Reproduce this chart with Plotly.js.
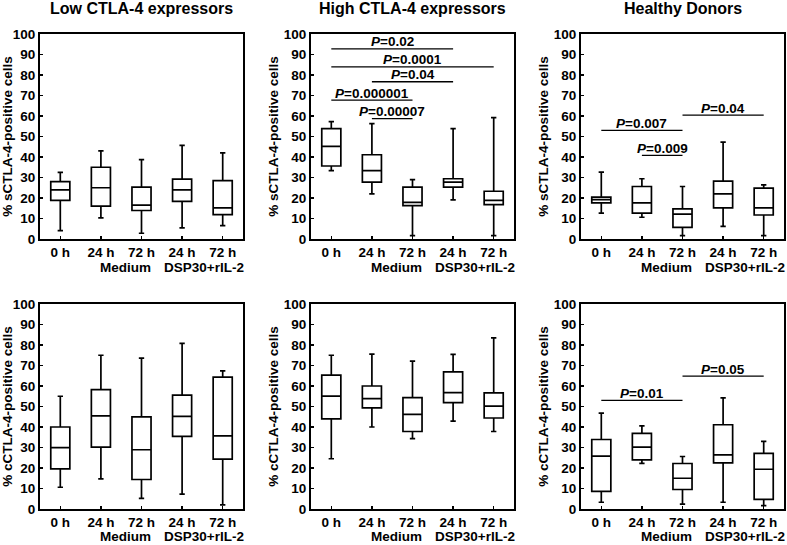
<!DOCTYPE html>
<html>
<head>
<meta charset="utf-8">
<script src="https://cdn.plot.ly/plotly-3.0.1.min.js"></script>
<style>html,body{margin:0;padding:0;background:#fff;}#chart{width:787px;height:545px;}</style>
</head>
<body>
<div id="chart"></div>
<script>
// ---- categories / tick labels ----
const tickLabels = ['0 h', '24 h', '72 h', '24 h', '72 h'];
const groupLabels = ['Medium', 'DSP30+rIL-2'];
const panelTitles = ['Low CTLA-4 expressors', 'High CTLA-4 expressors', 'Healthy Donors'];
const yTitles = ['% sCTLA-4-positive cells', '% cCTLA-4-positive cells'];

// ---- box statistics (lower whisker, q1, median, q3, upper whisker) ----
// Low CTLA-4 expressors, sCTLA-4
const lowS_lo  = [4.1, 10.3, 2.8, 5.4, 6.5];
const lowS_q1  = [18.8, 16.0, 13.9, 18.4, 11.9];
const lowS_med = [24.0, 25.0, 16.5, 24.0, 15.2];
const lowS_q3  = [28.0, 35.0, 25.3, 29.2, 28.5];
const lowS_hi  = [32.5, 43.0, 38.7, 45.7, 42.0];
// High CTLA-4 expressors, sCTLA-4
const highS_lo  = [33.4, 22.0, 1.6, 19.1, 1.6];
const highS_q1  = [35.6, 27.7, 16.3, 25.3, 16.8];
const highS_med = [45.2, 33.4, 17.9, 27.7, 18.8];
const highS_q3  = [53.8, 41.1, 25.3, 29.4, 23.3];
const highS_hi  = [57.3, 56.3, 29.0, 53.8, 59.2];
// Healthy donors, sCTLA-4
const hdS_lo  = [12.6, 10.6, 1.6, 6.2, 1.6];
const hdS_q1  = [17.6, 12.6, 5.7, 15.2, 11.7];
const hdS_med = [19.2, 17.6, 12.1, 22.0, 15.2];
const hdS_q3  = [20.4, 25.6, 14.7, 28.2, 24.8];
const hdS_hi  = [32.6, 29.4, 25.6, 47.3, 26.4];
// Low CTLA-4 expressors, cCTLA-4
const lowC_lo  = [10.6, 14.7, 5.2, 7.3, 2.0];
const lowC_q1  = [19.6, 30.2, 14.4, 35.4, 24.3];
const lowC_med = [29.9, 45.4, 28.9, 45.2, 35.7];
const lowC_q3  = [40.0, 58.2, 44.9, 55.5, 64.3];
const lowC_hi  = [55.0, 75.0, 73.6, 80.8, 67.4];
// High CTLA-4 expressors, cCTLA-4
const highC_lo  = [24.5, 40.0, 34.3, 42.9, 37.8];
const highC_q1  = [44.0, 49.3, 37.8, 51.9, 44.4];
const highC_med = [55.1, 53.8, 46.2, 56.8, 50.2];
const highC_q3  = [65.3, 60.0, 54.3, 66.9, 56.6];
const highC_hi  = [75.0, 75.5, 72.1, 75.4, 83.5];
// Healthy donors, cCTLA-4
const hdC_lo  = [3.3, 22.3, 2.4, 3.3, 1.6];
const hdC_q1  = [8.6, 24.0, 9.5, 22.5, 4.7];
const hdC_med = [25.8, 30.2, 15.0, 26.4, 19.4];
const hdC_q3  = [33.9, 36.9, 22.2, 41.1, 27.1];
const hdC_hi  = [46.8, 40.5, 25.6, 54.2, 33.0];

// ---- significance brackets (from box index, to box index, level, P value) ----
const highS_pFrom  = [0, 0, 1, 0, 1];
const highS_pTo    = [3, 4, 3, 2, 2];
const highS_pLevel = [92.7, 84.0, 76.7, 67.7, 58.7];
const highS_pText  = ['0.02', '0.0001', '0.04', '0.000001', '0.00007'];
const hdS_pFrom  = [0, 1, 2];
const hdS_pTo    = [2, 2, 4];
const hdS_pLevel = [53.0, 40.8, 60.4];
const hdS_pText  = ['0.007', '0.009', '0.04'];
const hdC_pFrom  = [0, 2];
const hdC_pTo    = [2, 4];
const hdC_pLevel = [53.0, 64.8];
const hdC_pText  = ['0.01', '0.05'];

// ---- build ----
const FONT = 'Liberation Sans, Arial, Helvetica, sans-serif';
const FS = 13.5;
const xpos = tickLabels.map((_, i) => i);
const panels = [
  {lo: lowS_lo, q1: lowS_q1, med: lowS_med, q3: lowS_q3, hi: lowS_hi, p: null},
  {lo: highS_lo, q1: highS_q1, med: highS_med, q3: highS_q3, hi: highS_hi,
   p: {from: highS_pFrom, to: highS_pTo, level: highS_pLevel, text: highS_pText}},
  {lo: hdS_lo, q1: hdS_q1, med: hdS_med, q3: hdS_q3, hi: hdS_hi,
   p: {from: hdS_pFrom, to: hdS_pTo, level: hdS_pLevel, text: hdS_pText}},
  {lo: lowC_lo, q1: lowC_q1, med: lowC_med, q3: lowC_q3, hi: lowC_hi, p: null},
  {lo: highC_lo, q1: highC_q1, med: highC_med, q3: highC_q3, hi: highC_hi, p: null},
  {lo: hdC_lo, q1: hdC_q1, med: hdC_med, q3: hdC_q3, hi: hdC_hi,
   p: {from: hdC_pFrom, to: hdC_pTo, level: hdC_pLevel, text: hdC_pText}}
];

const W = 787, H = 545;
const colPx = [[40, 243], [311, 514], [581, 784]];
const rowPx = [[34, 239], [304, 509]];

const data = [];
const layout = {
  width: W, height: H,
  margin: {l: 0, r: 0, t: 0, b: 0},
  paper_bgcolor: '#fff', plot_bgcolor: '#fff',
  showlegend: false,
  font: {family: FONT, color: '#000', size: FS, weight: 'bold'},
  annotations: []
};

panels.forEach((pn, k) => {
  const idx = k + 1;
  const xs = idx === 1 ? '' : String(idx);
  const xa = 'x' + xs, ya = 'y' + xs;
  const col = k % 3, row = Math.floor(k / 3);
  const xd = [colPx[col][0] / W, colPx[col][1] / W];
  const yd = [1 - rowPx[row][1] / H, 1 - rowPx[row][0] / H];

  data.push({
    type: 'box', xaxis: xa, yaxis: ya,
    x: xpos, q1: pn.q1, median: pn.med, q3: pn.q3,
    lowerfence: pn.lo, upperfence: pn.hi,
    boxpoints: false, width: 0.47, whiskerwidth: 0.28,
    fillcolor: '#fff', line: {color: '#000', width: 1.7},
    hoverinfo: 'skip'
  });

  if (pn.p) {
    pn.p.from.forEach((f, j) => {
      data.push({
        type: 'scatter', mode: 'lines', xaxis: xa, yaxis: ya,
        x: [xpos[f], xpos[pn.p.to[j]]], y: [pn.p.level[j], pn.p.level[j]],
        line: {color: '#000', width: 1.3}, hoverinfo: 'skip'
      });
      layout.annotations.push({
        xref: xa, yref: ya,
        x: (xpos[f] + xpos[pn.p.to[j]]) / 2, y: pn.p.level[j],
        xanchor: 'center', yanchor: 'bottom', yshift: -2.5,
        text: '<i>P</i>=' + pn.p.text[j], showarrow: false,
        font: {family: FONT, size: FS, weight: 'bold', color: '#000'}
      });
    });
  }

  layout['xaxis' + xs] = {
    domain: xd, anchor: ya, range: [-0.5, 4.5],
    tickvals: xpos, ticktext: tickLabels,
    ticks: 'inside', ticklen: 3, tickwidth: 1.5, tickcolor: '#000',
    showline: true, linecolor: '#000', linewidth: 2, mirror: true,
    showgrid: false, zeroline: false, fixedrange: true,
    tickfont: {family: FONT, size: FS, weight: 'bold', color: '#000'}
  };
  layout['yaxis' + xs] = {
    domain: yd, anchor: xa, range: [0, 100], dtick: 10, tick0: 0,
    ticks: 'inside', ticklen: 3, tickwidth: 1.5, tickcolor: '#000',
    showline: true, linecolor: '#000', linewidth: 2, mirror: true,
    showgrid: false, zeroline: false, fixedrange: true,
    tickfont: {family: FONT, size: FS, weight: 'bold', color: '#000'},
    title: {text: yTitles[row], standoff: 2,
            font: {family: FONT, size: FS, weight: 'bold', color: '#000'}}
  };

  // group labels under the category ticks
  const gy = row === 0 ? 1 - (rowPx[row][1] + 28) / H : 0;
  const ganchor = row === 0 ? 'middle' : 'bottom';
  groupLabels.forEach((g, gi) => {
    layout.annotations.push({
      xref: xa, yref: 'paper', x: gi === 0 ? 1.6 : 3.55, y: gy,
      xanchor: 'center', yanchor: ganchor, borderpad: 0,
      text: g, showarrow: false,
      font: {family: FONT, size: FS, weight: 'bold', color: '#000'}
    });
  });

  if (row === 0) {
    layout.annotations.push({
      xref: 'paper', yref: 'paper', x: (xd[0] + xd[1]) / 2, y: 1 - 8 / H,
      xanchor: 'center', yanchor: 'middle',
      text: panelTitles[col], showarrow: false,
      font: {family: FONT, size: 16, weight: 'bold', color: '#000'}
    });
  }
});

Plotly.newPlot('chart', data, layout, {staticPlot: true, displayModeBar: false});
</script>
</body>
</html>
